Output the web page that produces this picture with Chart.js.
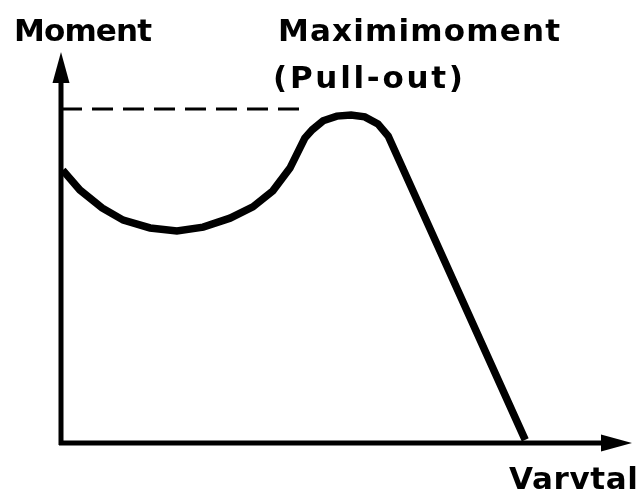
<!DOCTYPE html>
<html lang="sv">
<head>
    <meta charset="UTF-8">
    <title>Moment / Varvtal</title>
    <script src="https://cdn.jsdelivr.net/npm/chart.js"></script>
    <style>
        html, body { margin: 0; padding: 0; background: #fff; }
        canvas { display: block; }
    </style>
</head>
<body>
    <canvas id="torqueChart" width="641" height="493"></canvas>

    <script>
        // speed (x) and torque (y), both in % of the plot area
        const speed  = [0.3, 3.3, 7.2, 10.9, 15.6, 20.3, 24.9, 29.6, 33.6, 37.1, 40.1, 42.7, 44.0, 45.9, 48.3, 50.8, 53.2, 55.5, 57.3, 81.3];
        const torque = [69.8, 64.7, 60.1, 57.0, 55.0, 54.2, 55.2, 57.5, 60.4, 64.5, 70.3, 78.0, 80.1, 82.4, 83.6, 83.9, 83.4, 81.6, 78.5, 0.8];

        // dashed pull-out level
        const pullOutSpeed  = [0, 43.3];
        const pullOutTorque = [85.4, 85.4];

        const yAxisLabel = 'Moment';
        const xAxisLabel = 'Varvtal';
        const peakLabel  = ['Maximimoment', '(Pull-out)'];

        const toPoints = (xs, ys) => xs.map((x, i) => ({ x: x, y: ys[i] }));

        // draw text stretched to a given width with letter spacing
        function spacedText(ctx, text, x, y, width) {
            ctx.letterSpacing = '0px';
            const w = ctx.measureText(text).width;
            const gap = (width - w) / (text.length - 1);
            ctx.letterSpacing = gap + 'px';
            ctx.fillText(text, x, y);
            ctx.letterSpacing = '0px';
        }

        const axesPlugin = {
            id: 'arrowAxes',
            afterDatasetsDraw(chart) {
                const ctx = chart.ctx;
                const a = chart.chartArea;
                ctx.save();
                ctx.strokeStyle = '#000';
                ctx.fillStyle = '#000';
                ctx.lineWidth = 5;
                ctx.lineCap = 'butt';

                // y axis
                ctx.beginPath();
                ctx.moveTo(a.left, a.bottom + 2);
                ctx.lineTo(a.left, a.top + 28);
                ctx.stroke();
                ctx.beginPath();
                ctx.moveTo(a.left, a.top);
                ctx.lineTo(a.left - 8.5, a.top + 31);
                ctx.lineTo(a.left + 8.5, a.top + 31);
                ctx.closePath();
                ctx.fill();

                // x axis
                ctx.beginPath();
                ctx.moveTo(a.left - 2, a.bottom);
                ctx.lineTo(a.right - 28, a.bottom);
                ctx.stroke();
                ctx.beginPath();
                ctx.moveTo(a.right, a.bottom);
                ctx.lineTo(a.right - 31, a.bottom - 8.5);
                ctx.lineTo(a.right - 31, a.bottom + 8.5);
                ctx.closePath();
                ctx.fill();

                // labels
                ctx.font = 'bold 31px "DejaVu Sans"';
                ctx.textBaseline = 'alphabetic';
                ctx.textAlign = 'left';
                spacedText(ctx, yAxisLabel, 14, 41, 138);
                spacedText(ctx, peakLabel[0], 278, 41, 282);
                spacedText(ctx, peakLabel[1], 273, 88, 190);
                spacedText(ctx, xAxisLabel, 509, 489, 129);
                ctx.restore();
            }
        };

        new Chart(document.getElementById('torqueChart'), {
            type: 'scatter',
            data: {
                datasets: [
                    {
                        label: 'Moment',
                        data: toPoints(speed, torque),
                        showLine: true,
                        borderColor: '#000',
                        borderWidth: 7.5,
                        borderJoinStyle: 'miter',
                        tension: 0,
                        pointRadius: 0,
                        clip: false
                    },
                    {
                        label: 'Pull-out',
                        data: toPoints(pullOutSpeed, pullOutTorque),
                        showLine: true,
                        borderColor: '#000',
                        borderWidth: 3,
                        borderDash: [21, 10],
                        pointRadius: 0,
                        clip: false
                    }
                ]
            },
            options: {
                responsive: false,
                animation: false,
                devicePixelRatio: 1,
                layout: { padding: { left: 61, right: 9, top: 52, bottom: 50 } },
                plugins: {
                    legend: { display: false },
                    tooltip: { enabled: false }
                },
                scales: {
                    x: { type: 'linear', min: 0, max: 100, display: false },
                    y: { type: 'linear', min: 0, max: 100, display: false }
                }
            },
            plugins: [axesPlugin]
        });
    </script>
</body>
</html>
